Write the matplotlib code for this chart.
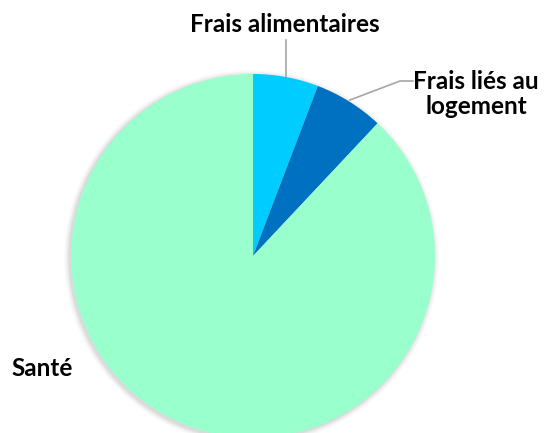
import matplotlib.pyplot as plt
from matplotlib.patches import Circle

labels = ["Frais alimentaires", "Frais liés au\nlogement", "Santé"]
values = [5.8, 6.2, 88.0]
colors = ["#00CCFF", "#0070C0", "#99FFCC"]

W, H = 549, 433
fig = plt.figure(figsize=(W / 100, H / 100), dpi=100)
ax = fig.add_axes([0, 0, 1, 1])

cx, cy, r = 253, H - 256, 182

# soft shadow
for i, a in enumerate([0.05, 0.04, 0.03, 0.02]):
    ax.add_patch(Circle((cx - 1.5, cy - 1.5), r + 1 + i * 1.5, color="#000000",
                        alpha=a, lw=0, zorder=0))

ax.pie(values, colors=colors, startangle=90, counterclock=False,
       center=(cx, cy), radius=r, frame=True,
       wedgeprops=dict(linewidth=0))
ax.set_xlim(0, W)
ax.set_ylim(0, H)
ax.set_aspect("equal")
ax.axis("off")

font = dict(family="Lato", fontweight="bold", fontsize=17.5, color="#000000")

# leader lines
ax.plot([286, 286], [H - 76, H - 40], color="#A6A6A6", lw=1.2)
ax.plot([350, 400, 413], [H - 100, H - 81, H - 81], color="#A6A6A6", lw=1.2)

ax.text(285, H - 25, labels[0], ha="center", va="center", **font)
ax.text(476, H - 94, labels[1], ha="center", va="center", linespacing=1.15, **font)
ax.text(42, H - 368, labels[2], ha="center", va="center", **font)

fig.savefig("out.png", dpi=100)
